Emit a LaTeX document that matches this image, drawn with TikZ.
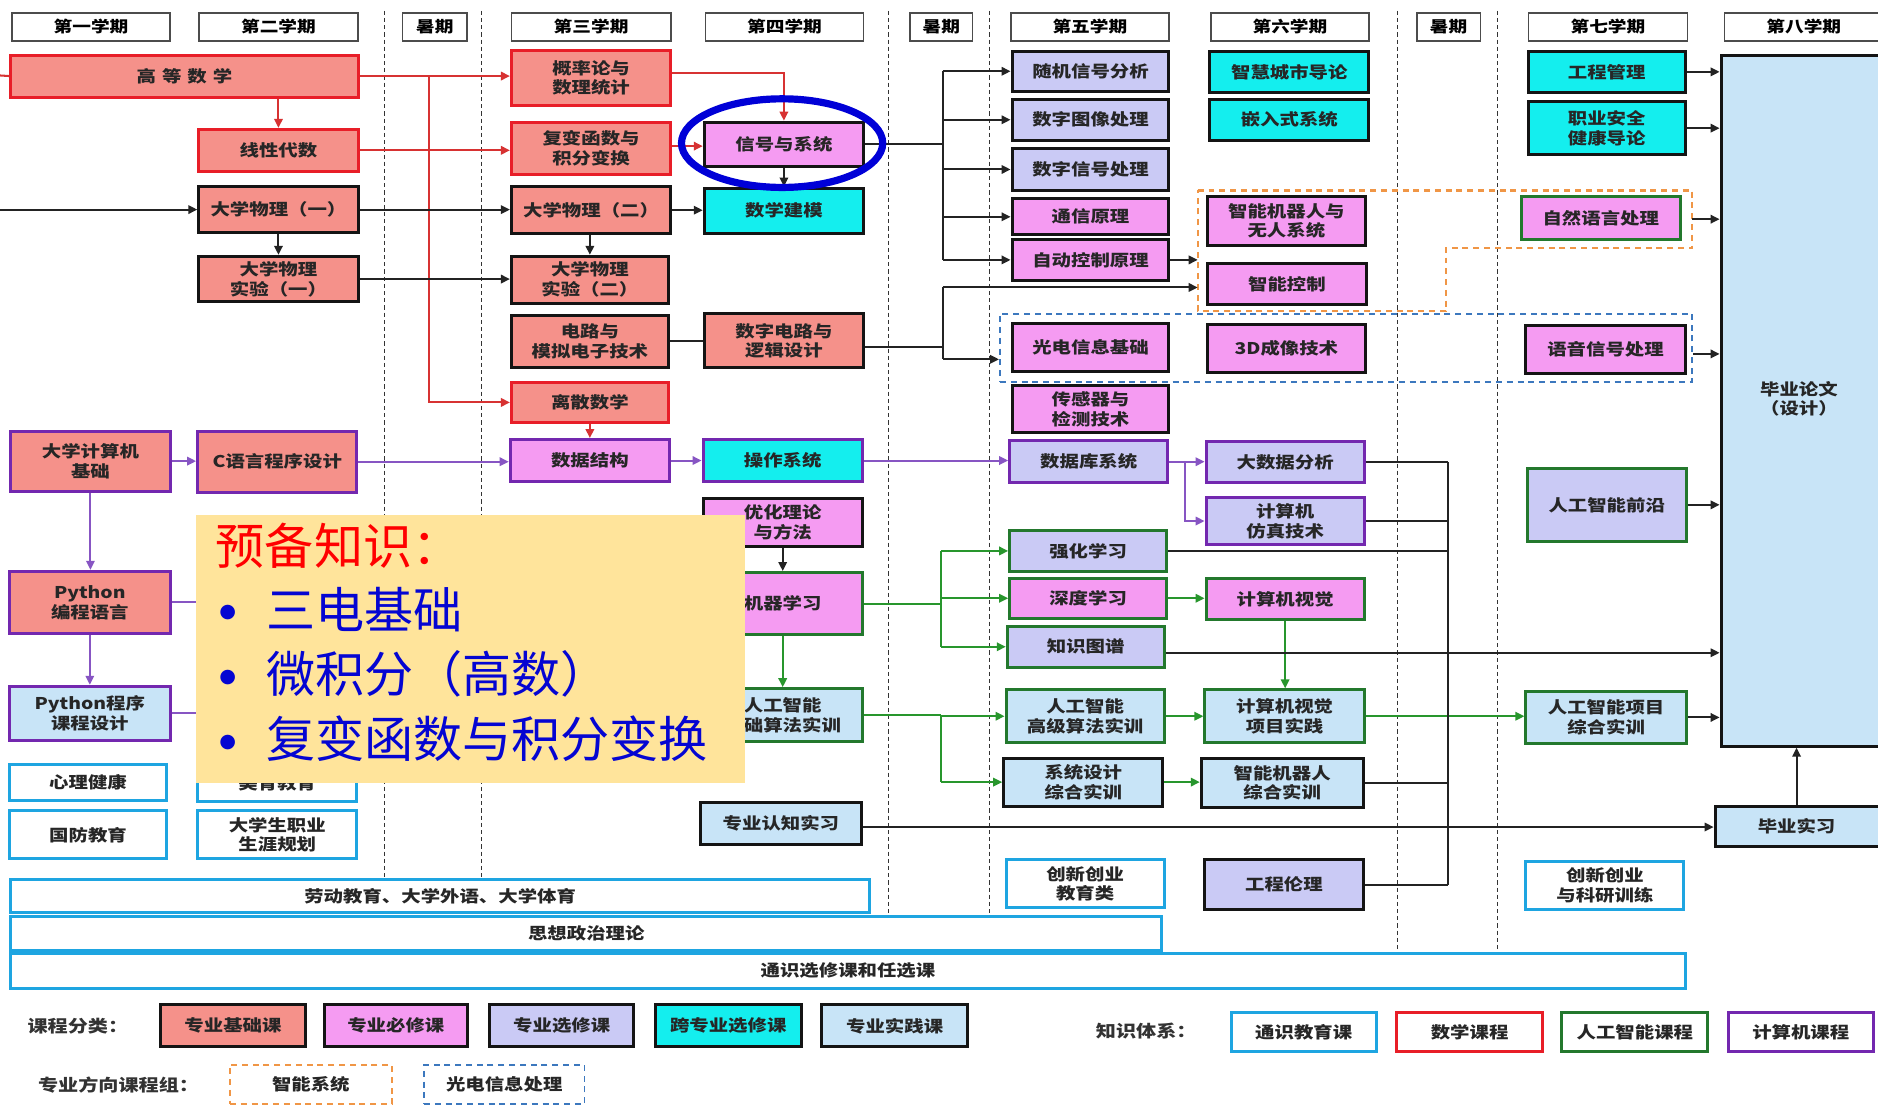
\documentclass[tikz,border=0pt]{standalone}
\usepackage{fontspec}
\setmainfont{Noto Sans CJK SC}[FakeStretch=1.2]
\newfontfamily\yfont{Noto Sans CJK SC}
\newfontfamily\dvfont{DejaVu Sans}
\usetikzlibrary{arrows.meta}
\definecolor{salm}{RGB}{245,145,138}
\definecolor{pinkf}{RGB}{245,155,242}
\definecolor{lav}{RGB}{202,202,245}
\definecolor{cyanf}{RGB}{20,238,238}
\definecolor{lblue}{RGB}{200,228,247}
\definecolor{redb}{RGB}{232,30,40}
\definecolor{purb}{RGB}{115,40,175}
\definecolor{greenb}{RGB}{35,120,45}
\definecolor{cyanb}{RGB}{30,165,225}
\definecolor{darkb}{RGB}{20,20,20}
\definecolor{redl}{RGB}{215,50,50}
\definecolor{purl}{RGB}{135,85,195}
\definecolor{greenl}{RGB}{40,150,45}
\definecolor{blackl}{RGB}{35,35,35}
\definecolor{yel}{RGB}{255,228,155}
\definecolor{ellb}{RGB}{0,0,215}
\definecolor{orgd}{RGB}{240,150,70}
\definecolor{blued}{RGB}{60,120,190}
\definecolor{ytxt}{RGB}{5,5,210}
\newcommand{\cbx}[7]{\node[course,#6,minimum width={(#4-#2)*1pt},minimum height={(#5-#3)*1pt}] (#1) at ({(#2+#4)/2},{(#3+#5)/2}) {#7};}
\newcommand{\hdr}[4]{\node[hdrbox,minimum width={(#3-#2)*1pt},minimum height=23pt] (#1) at ({(#2+#3)/2},22.5) {#4};}
\newcommand{\ybul}{\makebox[42pt][l]{\hspace{3pt}\raisebox{9pt}{\dvfont\fontsize{16}{16}\selectfont ●}}}
\tikzset{
  course/.style={draw, line width=2.5pt, align=center, inner sep=0pt, text=black!85,
    font=\fontsize{13.5}{16.5}\selectfont\bfseries},
  hdrbox/.style={draw=black!70, fill=white, line width=1.3pt, inner sep=0pt,
    font=\fontsize{13}{15}\selectfont\bfseries},
  csr/.style={fill=salm,draw=redb}, csk/.style={fill=salm,draw=darkb}, csp/.style={fill=salm,draw=purb},
  cpk/.style={fill=pinkf,draw=darkb}, cpp/.style={fill=pinkf,draw=purb}, cpg/.style={fill=pinkf,draw=greenb},
  clk/.style={fill=lav,draw=darkb}, clp/.style={fill=lav,draw=purb}, clg/.style={fill=lav,draw=greenb},
  cck/.style={fill=cyanf,draw=darkb}, ccp/.style={fill=cyanf,draw=purb},
  cbk/.style={fill=lblue,draw=darkb}, cbg/.style={fill=lblue,draw=greenb}, cbp/.style={fill=lblue,draw=purb},
  cwc/.style={fill=white,draw=cyanb}, cwr/.style={fill=white,draw=redb},
  cwg/.style={fill=white,draw=greenb}, cwp/.style={fill=white,draw=purb},
  cdo/.style={fill=white,draw=orgd,dashed,line width=1.6pt,dash pattern=on 5pt off 4pt},
  cdb/.style={fill=white,draw=blued,dashed,line width=1.6pt,dash pattern=on 5pt off 4pt},
  tip/.style={-{Triangle[length=7.5pt,width=7pt]}},
  rl/.style={draw=redl, line width=1.7pt}, ra/.style={rl,tip},
  kl/.style={draw=blackl, line width=1.7pt}, ka/.style={kl,tip},
  pl/.style={draw=purl, line width=1.7pt}, pa/.style={pl,tip},
  gl/.style={draw=greenl, line width=1.7pt}, ga/.style={gl,tip},
  vsep/.style={draw=black!80, line width=0.9pt, dash pattern=on 3.5pt off 2.5pt},
  lbl/.style={font=\fontsize{14}{16}\selectfont\bfseries, text=black!80},
}
\begin{document}
\begin{tikzpicture}[x=1pt,y=-1pt]
\useasboundingbox (0,0) rectangle (1568,924);
\fill[white] (0,0) rectangle (1568,924);
% semester separators
\foreach \xx/\yy in {321/734,402/734,742/765,826/765,1167/797,1250/797}
  \draw[vsep] (\xx,9) -- (\xx,\yy);
% headers
\hdr{h1}{10}{142}{第一学期}
\hdr{h2}{166}{299}{第二学期}
\hdr{h3}{336}{390}{暑期}
\hdr{h4}{427}{560}{第三学期}
\hdr{h5}{589}{721}{第四学期}
\hdr{h6}{760}{812}{暑期}
\hdr{h7}{844}{976}{第五学期}
\hdr{h8}{1011}{1143}{第六学期}
\hdr{h9}{1183}{1236}{暑期}
\hdr{h10}{1276}{1409}{第七学期}
\hdr{h11}{1440}{1572}{第八学期}
% direction groups
\draw[orgd, line width=1.8pt, dash pattern=on 5pt off 4pt] (1000,159) -- (1413,159) -- (1413,207) -- (1207,207) -- (1207,260) -- (1000,260) -- cycle;
\node[draw=blued, line width=1.8pt, dash pattern=on 5pt off 4pt, minimum width=578pt, minimum height=57pt, inner sep=0pt] (gdgrp) at (1124,290.5) {};
\coordinate (orL) at (1000,0);
\coordinate (orR) at (1413,183);
% bottom bars
\cbx{tsxx}{9}{796}{1407}{825}{cwc}{通识选修课和任选课}
\cbx{sxzz}{9}{765}{970}{794}{cwc}{思想政治理论}
\cbx{ldjy}{9}{734}{726}{762}{cwc}{劳动教育、大学外语、大学体育}
% semester 1-2
\cbx{gdsx}{9}{46}{299}{81}{csr}{高\hspace{5pt}等\hspace{5pt}数\hspace{5pt}学}
\cbx{xxds}{166}{108}{299}{143}{csr}{线性代数}
\cbx{dxwl1}{166}{156}{299}{194}{csk}{大学物理（一）}
\cbx{sy1}{166}{214}{299}{252}{csk}{大学物理\\实验（一）}
\cbx{jsjj}{9}{360}{142}{410}{csp}{大学计算机\\基础}
\cbx{cyy}{165}{360}{298}{411}{csp}{C语言程序设计}
\cbx{pyb}{8}{477}{142}{529}{csp}{Python\\编程语言}
\cbx{pyc}{8}{573}{142}{618}{cbp}{Python程序\\课程设计}
\cbx{xljk}{8}{638}{139}{668}{cwc}{心理健康}
\cbx{myjy}{165}{639}{298}{669}{cwc}{美育教育}
\cbx{gfjy}{8}{677}{139}{717}{cwc}{国防教育}
\cbx{zysy}{165}{677}{298}{717}{cwc}{大学生职业\\生涯规划}
% semester 3
\cbx{glt}{427}{42}{560}{88}{csr}{概率论与\\数理统计}
\cbx{fbhs}{427}{102}{560}{146}{csr}{复变函数与\\积分变换}
\cbx{dxwl2}{427}{156}{560}{195}{csk}{大学物理（二）}
\cbx{sy2}{427}{214}{558}{253}{csk}{大学物理\\实验（二）}
\cbx{dlmn}{427}{263}{558}{307}{csk}{电路与\\模拟电子技术}
\cbx{lssx}{427}{319}{558}{353}{csr}{离散数学}
\cbx{sjjg}{426}{367}{559}{402}{cpp}{数据结构}
% semester 4
\cbx{xhxt}{588}{102}{721}{139}{cpk}{信号与系统}
\cbx{sxjm}{588}{157}{721}{195}{cck}{数学建模}
\cbx{szdl}{588}{262}{721}{307}{csk}{数字电路与\\逻辑设计}
\cbx{czxt}{587}{367}{720}{402}{ccp}{操作系统}
\cbx{yhll}{587}{416}{720}{456}{cpk}{优化理论\\与方法}
\cbx{jqxx}{587}{478}{720}{530}{cpg}{机器学习}
\cbx{jcsx}{587}{575}{720}{619}{cbg}{人工智能\\基础算法实训}
\cbx{zyrz}{585}{670}{719}{705}{cbk}{专业认知实习}
% semester 5
\cbx{sjxh}{845}{43}{976}{76}{clk}{随机信号分析}
\cbx{sztx}{845}{83}{976}{117}{clk}{数字图像处理}
\cbx{szxh}{845}{124}{976}{159}{clk}{数字信号处理}
\cbx{txyl}{845}{166}{976}{196}{cpk}{通信原理}
\cbx{zdkz}{845}{200}{976}{234}{cpk}{自动控制原理}
\cbx{gdxx}{845}{270}{976}{310}{cpk}{光电信息基础}
\cbx{cgq}{845}{322}{976}{361}{cpk}{传感器与\\检测技术}
\cbx{sjk}{843}{368}{975}{403}{clp}{数据库系统}
\cbx{qhxx}{843}{443}{974}{477}{clg}{强化学习}
\cbx{sdxx}{843}{483}{974}{516}{cpg}{深度学习}
\cbx{zstp}{841}{523}{972}{557}{clg}{知识图谱}
\cbx{rggj}{840}{576}{972}{620}{cbg}{人工智能\\高级算法实训}
\cbx{xtsj}{838}{633}{971}{673}{cbk}{系统设计\\综合实训}
\cbx{cxcy1}{840}{718}{972}{758}{cwc}{创新创业\\教育类}
% semester 6
\cbx{zhcs}{1010}{43}{1143}{77}{cck}{智慧城市导论}
\cbx{qrs}{1010}{83}{1143}{117}{cck}{嵌入式系统}
\cbx{znjqr}{1008}{164}{1140}{205}{cpk}{智能机器人与\\无人系统}
\cbx{znkz}{1008}{220}{1141}{254}{cpk}{智能控制}
\cbx{cx3d}{1008}{271}{1140}{311}{cpk}{3D成像技术}
\cbx{dsj}{1007}{369}{1139}{403}{clp}{大数据分析}
\cbx{fzjs}{1007}{415}{1139}{455}{clp}{计算机\\仿真技术}
\cbx{jsjsj}{1007}{483}{1139}{517}{cpg}{计算机视觉}
\cbx{xmsj}{1006}{576}{1139}{620}{cbg}{计算机视觉\\项目实践}
\cbx{jqrsx}{1003}{633}{1138}{674}{cbk}{智能机器人\\综合实训}
\cbx{gcll}{1006}{718}{1138}{759}{clk}{工程伦理}
% semester 7
\cbx{gcgl}{1276}{43}{1407}{77}{cck}{工程管理}
\cbx{zyaq}{1276}{85}{1407}{129}{cck}{职业安全\\健康导论}
\cbx{zryy}{1270}{164}{1403}{200}{cpg}{自然语言处理}
\cbx{yyxh}{1274}{272}{1407}{312}{cpk}{语音信号处理}
\cbx{aiqy}{1275}{391}{1408}{452}{clg}{人工智能前沿}
\cbx{aixm}{1274}{577}{1408}{621}{cbg}{人工智能项目\\综合实训}
\cbx{cxcy2}{1274}{719}{1406}{759}{cwc}{创新创业\\与科研训练}
% semester 8
\cbx{bylw}{1437}{46}{1580}{623}{cbk}{}
\node[course, draw=none, fill=none] (bylwt) at (1502,333) {毕业论文\\（设计）};
\cbx{byxs}{1432}{673}{1580}{707}{cbk}{}
\node[course, draw=none, fill=none] (byxst) at (1500,690) {毕业实习};
% ---- connectors: red
\coordinate (lin0) at (0,63);
\coordinate (rbus) at (358,0);
\draw[rl] (lin0) -- (gdsx.west);
\draw[ra] (gdsx.east) -- (glt.west |- gdsx.east);
\draw[ra] (rbus |- gdsx.east) -- (rbus |- lssx.west) -- (lssx.west);
\draw[ra] (gdsx.south -| xxds.north) -- (xxds.north);
\draw[ra] (xxds.east) -- (fbhs.west |- xxds.east);
\draw[ra] ([yshift=4pt]glt.east) -| (xhxt.north);
\draw[ra] ([yshift=2pt]fbhs.east) -- ([yshift=2pt]xhxt.west |- fbhs.east);
\draw[ra] (lssx.south) -- (sjjg.north);
% black
\coordinate (lin1) at (0,175);
\coordinate (busA) at (787,0);
\coordinate (bB1) at (787,240);
\coordinate (bB2) at (787,300);
\coordinate (kbus) at (1209,0);
\draw[ka] (lin1) -- (dxwl1.west);
\draw[ka] (dxwl1.east) -- (dxwl2.west |- dxwl1.east);
\draw[ka] (dxwl1.south) -- (sy1.north);
\draw[ka] (sy1.east) -- (sy2.west |- sy1.east);
\draw[ka] (dxwl2.south -| sy2.north) -- (sy2.north);
\draw[ka] (dxwl2.east) -- (sxjm.west |- dxwl2.east);
\draw[ka] (xhxt.south) -- (sxjm.north);
\draw[kl] (dlmn.east) -- (szdl.west |- dlmn.east);
\draw[kl] (xhxt.east) -- (busA |- xhxt.east);
\draw[kl] (busA |- sjxh.west) -- (busA |- zdkz.west);
\foreach \t in {sjxh,sztx,szxh,txyl,zdkz}
  \draw[ka] (busA |- \t.west) -- (\t.west);
\draw[ka] (zdkz.east) -- (orL |- zdkz.east);
\draw[kl] ([yshift=-5pt]szdl.east) -- ([yshift=-5pt]busA |- szdl.east);
\draw[kl] (bB1) -- (bB2);
\draw[ka] (bB1) -- (orL |- bB1);
\draw[ka] (bB2) -- (gdgrp.west |- bB2);
\draw[ka] (yhll.south) -- (jqxx.north);
% purple
\coordinate (pbus) at (989,0);
\draw[pa] (jsjj.east) -- (cyy.west |- jsjj.east);
\draw[pa] (cyy.east) -- (sjjg.west |- cyy.east);
\draw[pa] (sjjg.east) -- (czxt.west |- sjjg.east);
\draw[pa] (czxt.east) -- (sjk.west |- czxt.east);
\draw[pa] (jsjj.south) -- (jsjj.south |- pyb.north);
\draw[pa] (pyb.south) -- (pyc.north);
\draw[pa] (pyb.east) -- (jqxx.west |- pyb.east);
\draw[pa] (pyc.east) -- (jcsx.west |- pyc.east);
\draw[pl] (sjk.east) -- (pbus |- sjk.east);
\draw[pa] (pbus |- sjk.east) -- (dsj.west |- sjk.east);
\draw[pa] (pbus |- sjk.east) |- (fzjs.west);
% green
\coordinate (gbus) at (786,0);
\draw[ga] (jqxx.south) -- (jcsx.north);
\draw[gl] (jqxx.east) -- (gbus |- jqxx.east);
\draw[gl] (gbus |- qhxx.west) -- (gbus |- zstp.west);
\foreach \t in {qhxx,sdxx,zstp}
  \draw[ga] (gbus |- \t.west) -- (\t.west);
\draw[gl] (jcsx.east) -- (gbus |- jcsx.east);
\draw[gl] (gbus |- rggj.west) -- (gbus |- xtsj.west);
\draw[ga] (gbus |- rggj.west) -- (rggj.west);
\draw[ga] (gbus |- xtsj.west) -- (xtsj.west);
\draw[ga] (sdxx.east) -- (jsjsj.west |- sdxx.east);
\draw[ga] (jsjsj.south) -- (jsjsj.south |- xmsj.north);
\draw[ga] (rggj.east) -- (xmsj.west |- rggj.east);
\draw[ga] (xmsj.east) -- (aixm.west |- xmsj.east);
\draw[ga] (xtsj.east) -- (jqrsx.west |- xtsj.east);
% black to thesis
\draw[ka] ([yshift=-5pt]zstp.east) -- ([yshift=-5pt]bylw.west |- zstp.east);
\draw[ka] (aixm.east) -- (bylw.west |- aixm.east);
\draw[ka] (gcgl.east) -- (bylw.west |- gcgl.east);
\draw[ka] (zyaq.east) -- (bylw.west |- zyaq.east);
\draw[ka] (orR) -- (bylw.west |- orR);
\draw[ka] ([yshift=-5pt]gdgrp.east) -- ([yshift=-5pt]bylw.west |- gdgrp.east);
\draw[ka] (aiqy.east) -- (bylw.west |- aiqy.east);
\draw[ka] ([yshift=-3pt]zyrz.east) -- ([yshift=-3pt]byxs.west |- zyrz.east);
\draw[ka] (byxs.north -| byxst.center) -- (bylw.south -| byxst.center);
% black bus
\foreach \t in {dsj,fzjs,qhxx,jqrsx,gcll}
  \draw[kl] (\t.east) -- (kbus |- \t.east);
\draw[kl] (kbus |- dsj.east) -- (kbus |- gcll.east);
% highlight ellipse
\draw[ellb, line width=6pt] ([xshift=-1.5pt,yshift=1pt]xhxt.center) ellipse [x radius=84pt, y radius=37pt];
% legend
\node[lbl] (lgt1) at (65,857) {课程分类：};
\cbx{lg1}{134}{839}{255}{874}{csk}{专业基础课}
\cbx{lg2}{271}{839}{390}{874}{cpk}{专业必修课}
\cbx{lg3}{409}{839}{529}{874}{clk}{专业选修课}
\cbx{lg4}{547}{839}{669}{874}{cck}{跨专业选修课}
\cbx{lg5}{686}{839}{808}{874}{cbk}{专业实践课}
\node[lbl] (lgt2) at (957,861) {知识体系：};
\cbx{kt1}{1028}{845}{1149}{878}{cwc}{通识教育课}
\cbx{kt2}{1166}{845}{1288}{878}{cwr}{数学课程}
\cbx{kt3}{1304}{845}{1426}{878}{cwg}{人工智能课程}
\cbx{kt4}{1443}{845}{1564}{878}{cwp}{计算机课程}
\node[lbl] (lgt3) at (99,906) {专业方向课程组：};
\cbx{zx1}{192}{889}{327}{922}{cdo}{智能系统}
\cbx{zx2}{354}{889}{488}{922}{cdb}{光电信息处理}
% prerequisite overlay
\node[fill=yel, minimum width=458pt, minimum height=224pt, inner sep=0pt] (ybox) at (393,542) {};
\node[anchor=west, inner sep=0pt, text=red, font=\yfont\fontsize{41}{45}\selectfont] (yt0) at (180,456) {预备知识：};
\node[anchor=west, inner sep=0pt, text=ytxt, font=\yfont\fontsize{41}{45}\selectfont] (yt1) at (180,509) {\ybul 三电基础};
\node[anchor=west, inner sep=0pt, text=ytxt, font=\yfont\fontsize{41}{45}\selectfont] (yt2) at (180,563) {\ybul 微积分（高数）};
\node[anchor=west, inner sep=0pt, text=ytxt, font=\yfont\fontsize{41}{45}\selectfont] (yt3) at (180,617) {\ybul 复变函数与积分变换};
\end{tikzpicture}
\end{document}
